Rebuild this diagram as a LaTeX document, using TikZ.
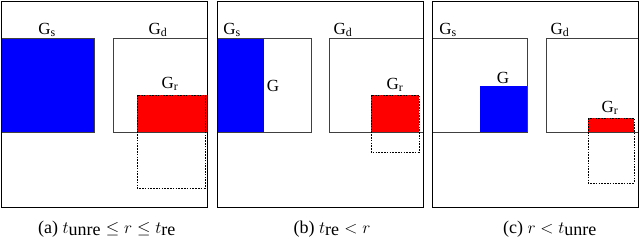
\documentclass[tikz,border=0pt]{standalone}
\usepackage{fontspec}
\setmainfont{Liberation Serif}
\begin{document}
\begin{tikzpicture}[x=1pt,y=-1pt,
  frame/.style={draw=black,line width=0.9pt},
  gbox/.style={draw=black!75,line width=0.8pt},
  bluefill/.style={fill=blue},
  redfill/.style={fill=red},
  dashbox/.style={draw=black,line width=0.7pt,dash pattern=on 1.6pt off 1.2pt},
  lbl/.style={font=\fontsize{17}{19}\selectfont,inner sep=0pt},
  captext/.style={font=\fontsize{18}{20}\selectfont,inner sep=0pt}]
\useasboundingbox (0,0) rectangle (640,240);
% ---------- panel (a)
\fill[bluefill] (1,38) rectangle (94,132);
\draw[gbox] (1,38) rectangle (94,132);
\draw[gbox] (113,38) rectangle (207,132);
\fill[redfill] (137,95) rectangle (207,132);
\draw[dashbox] (137,95) rectangle (205,188);
\draw[frame] (1,1) rectangle (207,207);
\node[lbl] (as) at (47,30) {$\mathrm{G}_{\mathrm{s}}$};
\node[lbl] (ad) at (158,30) {$\mathrm{G}_{\mathrm{d}}$};
\node[lbl] (ar) at (170,84) {$\mathrm{G}_{\mathrm{r}}$};
\node[captext] (capa) at (107,229) {(a) $t_{\textrm{unre}} \leq r \leq t_{\textrm{re}}$};
% ---------- panel (b)
\fill[bluefill] (217,38) rectangle (264,132);
\draw[gbox] (217,38) rectangle (311,132);
\draw[gbox] (329,38) rectangle (423,132);
\fill[redfill] (371,95) rectangle (419,132);
\draw[dashbox] (371,95) rectangle (419,152);
\draw[frame] (217,1) rectangle (423,207);
\node[lbl] (bs) at (232,30) {$\mathrm{G}_{\mathrm{s}}$};
\node[lbl] (bg) at (273,86) {$\mathrm{G}$};
\node[lbl] (bd) at (343,30) {$\mathrm{G}_{\mathrm{d}}$};
\node[lbl] (br) at (395,85) {$\mathrm{G}_{\mathrm{r}}$};
\node[captext] (capb) at (332,229) {(b) $t_{\textrm{re}} < r$};
% ---------- panel (c)
\fill[bluefill] (480,86) rectangle (527,132);
\draw[gbox] (432,38) rectangle (527,132);
\draw[gbox] (546,38) rectangle (638,132);
\fill[redfill] (588,118) rectangle (634,132);
\draw[dashbox] (588,118) rectangle (634,183);
\draw[frame] (432,1) rectangle (638,207);
\node[lbl] (cs) at (448,30) {$\mathrm{G}_{\mathrm{s}}$};
\node[lbl] (cg) at (503,78) {$\mathrm{G}$};
\node[lbl] (cd) at (560,30) {$\mathrm{G}_{\mathrm{d}}$};
\node[lbl] (cr) at (610,108) {$\mathrm{G}_{\mathrm{r}}$};
\node[captext] (capc) at (550,229) {(c) $r < t_{\textrm{unre}}$};
\end{tikzpicture}
\end{document}
